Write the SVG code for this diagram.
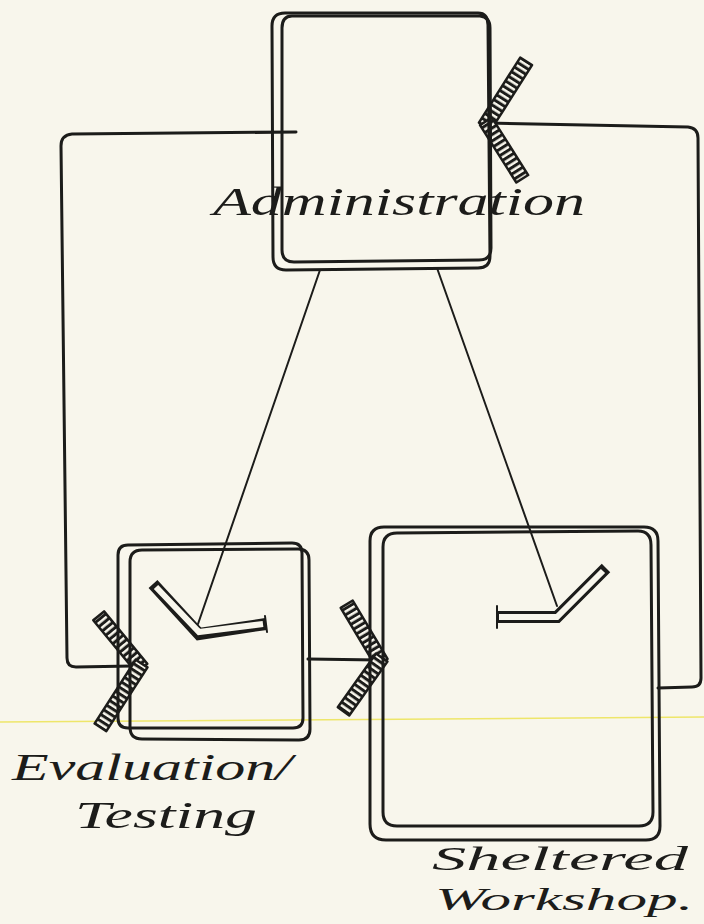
<svg xmlns="http://www.w3.org/2000/svg" width="704" height="924" viewBox="0 0 704 924">
<defs>
<pattern id="hatch" patternUnits="userSpaceOnUse" width="5.5" height="14">
<rect width="5.5" height="14" fill="#f8f6ec"/>
<rect width="3" height="14" fill="#1c1c1a"/>
</pattern>
<style>
.ln{fill:none;stroke:#1c1c1a;stroke-width:3;stroke-linecap:round;stroke-linejoin:round}
.thin{fill:none;stroke:#1c1c1a;stroke-width:2;stroke-linecap:round}
.bar{fill:url(#hatch);stroke:#1c1c1a;stroke-width:2.5;stroke-linejoin:round}
.chevO{fill:none;stroke:#1c1c1a;stroke-width:12;stroke-linejoin:miter}
.chevI{fill:none;stroke:#f8f6ec;stroke-width:6;stroke-linejoin:miter}
.hand{font-family:"Liberation Serif","DejaVu Serif",serif;font-style:italic;fill:#1c1c1a}
</style>
</defs>
<rect width="704" height="924" fill="#f8f6ec"/>
<path d="M0 722 L704 717" stroke="#eee66a" stroke-width="1.5" fill="none"/>

<g id="connectors">
<path class="ln" d="M296 132 L72 134 Q61 135 61 146 L67 658 Q67 667 76 667 L132 666"/>
<path class="ln" d="M487 123 L688 127 Q698 128 698 138 L701 678 Q701 687 692 687 L658 688"/>
<path class="ln" d="M308 659 L378 660"/>
<path class="thin" d="M320 270 L198 624"/>
<path class="thin" d="M437 268 L557 606"/>
<g id="arrow-admin">
<rect class="bar" x="-4" y="-7" width="77" height="14" transform="translate(487 123) rotate(-57.6)"/>
<rect class="bar" x="-2" y="-7" width="68" height="14" transform="translate(487 123) rotate(57.7)"/>
</g>
<g id="arrow-eval">
<rect class="bar" x="-3" y="-7" width="68" height="14" transform="translate(140 666) rotate(-129.5)"/>
<rect class="bar" x="-3" y="-7" width="76" height="14" transform="translate(140 666) rotate(122.8)"/>
</g>
<g id="arrow-workshop">
<rect class="bar" x="-3" y="-7" width="68" height="14" transform="translate(380 660) rotate(-120.8)"/>
<rect class="bar" x="-3" y="-7" width="66" height="14" transform="translate(380 660) rotate(125.4)"/>
</g>
</g>

<g id="admin">
<path class="ln" d="M285 13 L478 13 Q488 13 488 25 L490 256 Q490 268 478 268 L286 270 Q273 270 273 257 L272 26 Q272 13 285 13 Z"/>
<path class="ln" d="M292 16 L480 16 Q490 17 490 28 L491 248 Q491 260 479 260 L294 262 Q282 262 282 250 L282 28 Q282 16 292 16 Z"/>
<text class="hand" x="213" y="215" font-size="40" textLength="372" lengthAdjust="spacingAndGlyphs">Administration</text>
</g>

<g id="eval">
<path class="ln" d="M128 545 L292 543 Q302 543 302 553 L303 718 Q303 728 293 728 L128 728 Q118 728 118 718 L118 555 Q118 545 128 545 Z"/>
<path class="ln" d="M142 550 L298 549 Q309 549 309 560 L310 729 Q310 740 299 740 L142 739 Q130 739 130 727 L130 562 Q130 550 142 550 Z"/>
<polyline class="chevO" points="153,584 199,634 266,624"/>
<polyline class="chevI" points="156,587 199,632 263,624"/>
<path class="thin" d="M265 616 L267 632"/>
<text class="hand" x="12" y="780" font-size="38" textLength="280" lengthAdjust="spacingAndGlyphs">Evaluation/</text>
<text class="hand" x="75" y="828" font-size="38" textLength="182" lengthAdjust="spacingAndGlyphs">Testing</text>
</g>

<g id="workshop">
<path class="ln" d="M384 527 L644 527 Q658 527 658 541 L660 826 Q660 840 646 840 L386 840 Q370 840 370 824 L370 541 Q370 527 384 527 Z"/>
<path class="ln" d="M397 533 L638 531 Q651 531 651 545 L653 812 Q653 826 639 826 L397 826 Q383 826 383 812 L383 547 Q383 533 397 533 Z"/>
<polyline class="chevO" points="497,617 557,617 606,568"/>
<polyline class="chevI" points="499,617 557,617 603,571"/>
<path class="thin" d="M497 606 L497 628"/>
<text class="hand" x="432" y="870" font-size="34" textLength="256" lengthAdjust="spacingAndGlyphs">Sheltered</text>
<text class="hand" x="435" y="910" font-size="32" textLength="258" lengthAdjust="spacingAndGlyphs">Workshop.</text>
</g>
</svg>
